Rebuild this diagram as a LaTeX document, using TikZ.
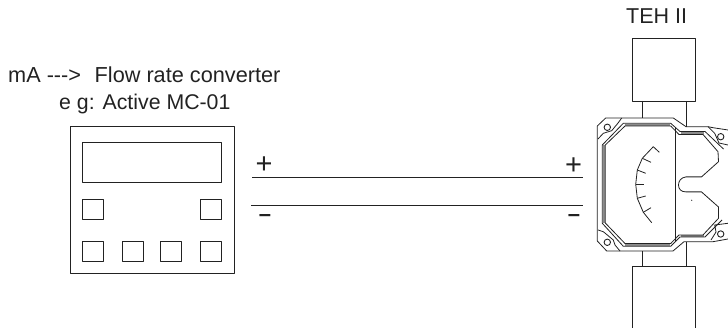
\documentclass[tikz,border=0pt]{standalone}
\usepackage{fontspec}
\setmainfont[Ligatures=NoCommon]{Liberation Sans}
\definecolor{ink}{HTML}{222222}
\tikzset{
  every path/.style={line join=round},
  panelbox/.style={draw=ink,line width=0.8pt,inner sep=0pt,outer sep=0pt},
  wire/.style={draw=ink,line width=0.7pt},
  body/.style={draw=ink,line width=0.8pt},
  band/.style={draw=black!45,line width=1.8pt},
  label/.style={font=\fontsize{21.5pt}{21.5pt}\selectfont,text=ink,inner sep=0pt,anchor=base west},
  sign/.style={font=\fontsize{29pt}{29pt}\selectfont,text=ink,inner sep=0pt,anchor=center},
  dashsign/.style={font=\bfseries\fontsize{22pt}{22pt}\selectfont,text=ink,inner sep=0pt,anchor=center}
}
\begin{document}
\begin{tikzpicture}[x=1pt,y=-1pt]
\useasboundingbox (0,0) rectangle (728,328);
% texts
\node[label,font=\fontsize{21.7pt}{21.7pt}\selectfont] (t1) at (8,82.5) {mA {-}{-}{-}> \hspace{1.5pt}\ Flow rate converter};
\node[label,font=\fontsize{21.3pt}{21.3pt}\selectfont] (t2) at (59,110) {e g: Active MC-01};
\node[label] (t3) at (626,24) {TEH II};
% panel
\node[panelbox,minimum width=164pt,minimum height=147pt] (panel) at (152,199.5) {};
\node[panelbox,minimum width=139pt,minimum height=40pt] (display) at (152,162) {};
\foreach \n/\cx/\cy in {b1/93.2/209,b2/211/209,b3/93.2/251.8,b4/132.5/251.8,b5/170.5/251.8,b6/211/251.8}
  \node[panelbox,minimum width=21pt,minimum height=20pt] (\n) at (\cx,\cy) {};
% wires
\coordinate (p1) at (252,177.2);
\coordinate (p2) at (583,177.2);
\coordinate (m1) at (251,205.7);
\coordinate (m2) at (583,205.7);
\draw[wire] (p1) -- (p2);
\draw[wire] (m1) -- (m2);
\node[sign] (sp1) at (264,165) {+};
\node[sign] (sp2) at (573.5,166) {+};
\node[dashsign] (sm1) at (265,218.5) {–};
\node[dashsign] (sm2) at (574,218.5) {–};
% pipe boxes
\node[panelbox,minimum width=63pt,minimum height=62.3pt] (top) at (664.2,69.85) {};
\draw[body] (632.7,328) -- (632.7,266.7) -- (695.7,266.7) -- (695.7,328);
\draw[body] (642.3,101) -- (642.3,118);
\draw[body] (686.7,101) -- (686.7,126.7);
\draw[body] (642.3,251.5) -- (642.3,266.7);
\draw[body] (686.7,241.7) -- (686.7,266.7);
% gray bands
\draw[band] (603.8,145) -- (603.8,223);
\draw[band] (625,124.7) -- (670,124.7);
\draw[band] (625,245) -- (670,245);
\draw[band] (681,133) -- (704,133);
\draw[band] (681,236) -- (704,236);
% body outline
\draw[body] (728,130) -- (713,127.7) -- (708,126.7) -- (686,126.7) -- (673.3,118) -- (605.7,118) -- (597.3,126) -- (597.3,241) -- (606.7,251) -- (673,251) -- (684,241.7) -- (708,241.7) -- (713,241.7) -- (728,239);
% ears
\draw[body] (621.7,118) -- (618.3,122.7) -- (611.7,130.7) -- (603.3,133.3) -- (598,139);
\draw[body] (620,251) -- (615,245) -- (613.3,240) -- (603.3,231.7) -- (598,230);
\draw[body] (708,126.7) -- (714.7,133.3) -- (719,143) -- (728,145);
\draw[body] (711,240) -- (716,232) -- (714.7,225) -- (728,223.3);
\draw[body,line width=0.9pt] (607.3,127.3) circle (3.2);
\draw[body,line width=0.9pt] (607.3,242.3) circle (3.2);
\draw[body,line width=0.9pt] (720.7,136.7) circle (3.2);
\draw[body,line width=0.9pt] (720.7,234) circle (3.2);
% double window outline
\draw[body] (723.5,149) -- (705,131.5) -- (680,131.5) -- (670.7,123.3) -- (623.3,123.3) -- (602.3,145) -- (602.3,223.3) -- (623.3,246.3) -- (670.7,246.3) -- (680,237) -- (705,237) -- (722,220);
\draw[body] (679,134.5) -- (703,134.5) -- (718,151.7) -- (718.5,161.7) -- (701.5,176.9) -- (686,176.9)
  .. controls (681,177.5) and (678.5,181) .. (678.5,185)
  .. controls (678.5,189) and (681,191.9) .. (686,191.9)
  -- (701.5,191.9) -- (718.5,207) -- (718.5,218.3) -- (703,235) -- (679,235) -- (670.7,243.5) -- (625,243.5) -- (605.3,223) -- (605.3,145) -- (625,126) -- (670.7,126) -- cycle;
\draw[body] (675.5,128) -- (675.5,241);
\fill[ink] (691.7,200.3) circle (0.6);
% scale
\draw[body] (659.3,152.3) -- (653.3,146.7) -- (642.3,158.3) -- (637.3,170) -- (635.7,184.3) -- (637.3,198.3) -- (643.3,212.3) -- (651.7,222.7);
\draw[body] (642.3,158.3) -- (651,162.3);
\draw[body] (637.3,170) -- (645.7,173.3);
\draw[body] (635.7,184.3) -- (644.3,184.3);
\draw[body] (637.3,198.3) -- (645.7,196);
\draw[body] (643.3,212.3) -- (651,207.7);
\end{tikzpicture}
\end{document}
